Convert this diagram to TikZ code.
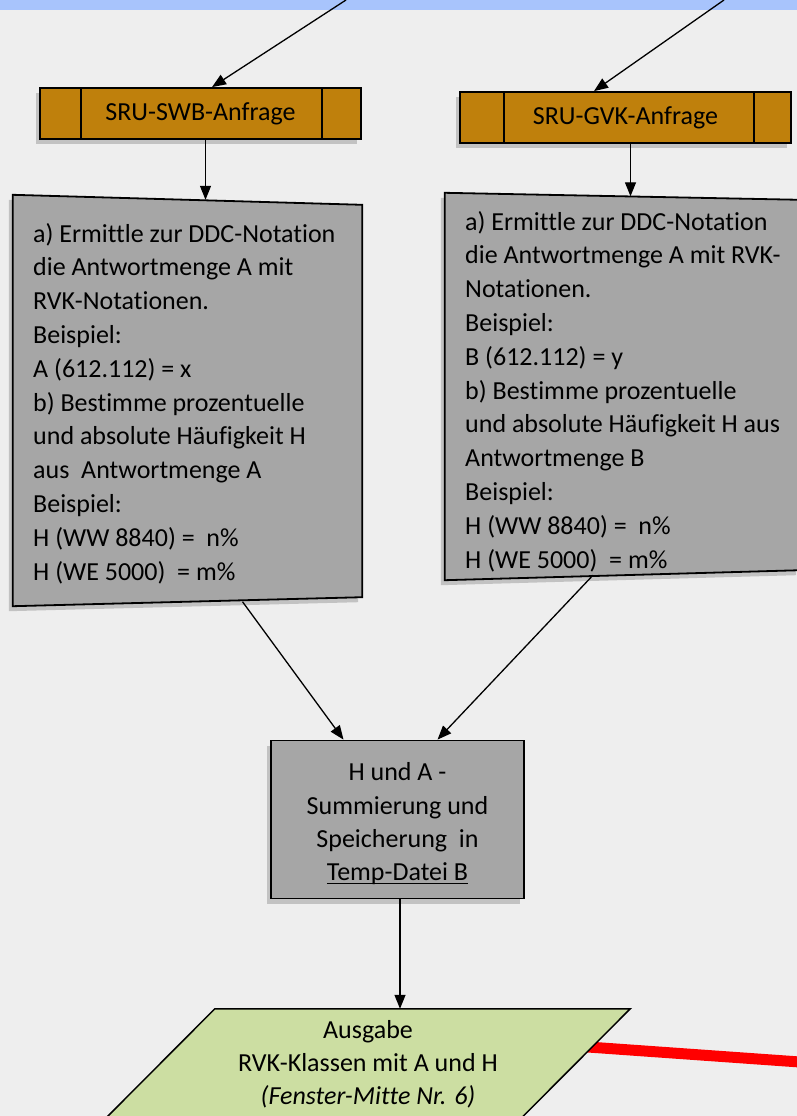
\documentclass[tikz,border=0pt]{standalone}
\usepackage{fontspec}
\setmainfont{Carlito}[Ligatures=NoCommon]
\usetikzlibrary{calc,positioning,arrows.meta,shadows}
\tikzset{>={Triangle[width=11pt,length=14pt]}}
\definecolor{bgcol}{RGB}{238,238,238}
\definecolor{bandcol}{RGB}{168,196,252}
\definecolor{sruorange}{RGB}{191,128,12}
\definecolor{boxgray}{RGB}{166,166,166}
\definecolor{outgreen}{RGB}{204,222,162}
\newsavebox\ulbox
\newcommand{\ulin}[1]{\sbox\ulbox{#1}\rlap{\rule[-3.5pt]{\wd\ulbox}{1.2pt}}\usebox\ulbox}
\tikzset{
  arr/.style={->,line width=1.3pt},
  shade box/.style={drop shadow={shadow xshift=-4pt,shadow yshift=-5pt,opacity=.4}},
  sru/.style={draw,line width=1.8pt,fill=sruorange,minimum height=51pt,inner sep=0pt,shade box},
  boxarea/.style={rectangle,inner sep=0pt},
  graybox/.style={draw,line width=1.8pt,fill=boxgray,shade box},
  boxtext/.style={align=left,inner sep=0pt},
}

\begin{document}
\begin{tikzpicture}[x=1pt,y=-1pt,font=\fontsize{26}{33.8}\selectfont]
    \useasboundingbox (0,0) rectangle (797,1116);
    \fill[bgcol] (0,0) rectangle (797,1116);
    \clip (0,0) rectangle (797,1116);
    \fill[bandcol] (0,0) rectangle (797,10.5);

    % Anfragen
    \node[sru,minimum width=321pt] (swb) at (200.5,113.5) {SRU-SWB-Anfrage};
    \node[sru,minimum width=331pt] (gvk) at (625.5,117.5) {SRU-GVK-Anfrage};
    \draw[line width=1.5pt] ([xshift=42pt]swb.north west) -- ([xshift=42pt]swb.south west)
        ([xshift=-40pt]swb.north east) -- ([xshift=-40pt]swb.south east);
    \draw[line width=1.5pt] ([xshift=45pt]gvk.north west) -- ([xshift=45pt]gvk.south west)
        ([xshift=-38pt]gvk.north east) -- ([xshift=-38pt]gvk.south east);

    % Antwortmengen
    \node[boxarea,minimum width=349pt,minimum height=401.5pt] (ermA) at (187.5,400.75) {};
    \draw[graybox] ($(ermA.north west)+(0,-5)$) -- ($(ermA.north east)+(0,5)$)
        -- ($(ermA.south east)+(0,-4.5)$) -- ($(ermA.south west)+(0,4.5)$) -- cycle;
    \node[boxtext,anchor=base west] (ermAtxt) at (33,580) {a) Ermittle zur DDC-Notation\\die Antwortmenge A mit\\RVK-Notationen.\\Beispiel:\\A (612.112) = x\\b) Bestimme prozentuelle\\und absolute Häufigkeit H\\aus\ \ Antwortmenge A\\Beispiel:\\H (WW 8840) =\ \ n\%\\H (WE 5000)\ \ = m\%};

    \node[boxarea,minimum width=355pt,minimum height=378.5pt] (ermB) at (622.5,385.75) {};
    \draw[graybox] ($(ermB.north west)+(0,-3.5)$) -- ($(ermB.north east)+(0,3.5)$)
        -- ($(ermB.south east)+(0,-5)$) -- ($(ermB.south west)+(0,5)$) -- cycle;
    \node[boxtext,anchor=base west] (ermBtxt) at (465,568) {a) Ermittle zur DDC-Notation\\die Antwortmenge A mit RVK-\\Notationen.\\Beispiel:\\B (612.112) = y\\b) Bestimme prozentuelle\\und absolute Häufigkeit H aus\\Antwortmenge B\\Beispiel:\\H (WW 8840) =\ \ n\%\\H (WE 5000)\ \ = m\%};

    % Summierung
    \node[graybox,minimum width=253pt,minimum height=158pt,align=center,inner sep=0pt,
        font=\fontsize{26}{33.3}\selectfont] (summ) at (397.5,819.5)
        {\rule{0pt}{27pt}H und A -\\Summierung und\\Speicherung\ \ in\\\ulin{Temp-Datei B}};

    % Ausgabe
    \coordinate (redB) at (800,1062);
    \node[boxarea,minimum width=415pt,minimum height=112pt] (ausg) at (422.5,1065) {};
    \draw[red,line width=11pt] ($(ausg.north east)+(-45,38)$) -- (redB);
    \draw[line width=1.5pt,fill=outgreen] (ausg.north west) -- (ausg.north east)
        -- ($(ausg.south east)+(-112,0)$) -- ($(ausg.south west)+(-112,0)$) -- cycle;
    \node[align=center,anchor=base,font=\fontsize{26}{33}\selectfont] (ausgtxt) at (368,1104)
        {Ausgabe\\RVK-Klassen mit A und H\\\textit{(Fenster-Mitte Nr. 6)}};

    \coordinate (inA) at (346,0);
    \coordinate (inB) at (724,0);
    \draw[arr] (inA) -- ([xshift=11.5pt]swb.north);
    \draw[arr] (inB) -- ([xshift=-31.5pt]gvk.north);
    \draw[arr] ([xshift=5pt]swb.south) -- ([xshift=5pt]swb.south |- ermA.north);
    \draw[arr] ([xshift=5pt]gvk.south) -- ([xshift=5pt]gvk.south |- ermB.north);
    \draw[arr] ([xshift=55pt]ermA.south) -- ([xshift=-54pt]summ.north);
    \draw[arr] ([xshift=-29.5pt]ermB.south) -- ([xshift=40pt]summ.north);
    \draw[arr] ([xshift=2.5pt]summ.south) -- ([xshift=2.5pt]summ.south |- ausg.north);
\end{tikzpicture}
\end{document}
